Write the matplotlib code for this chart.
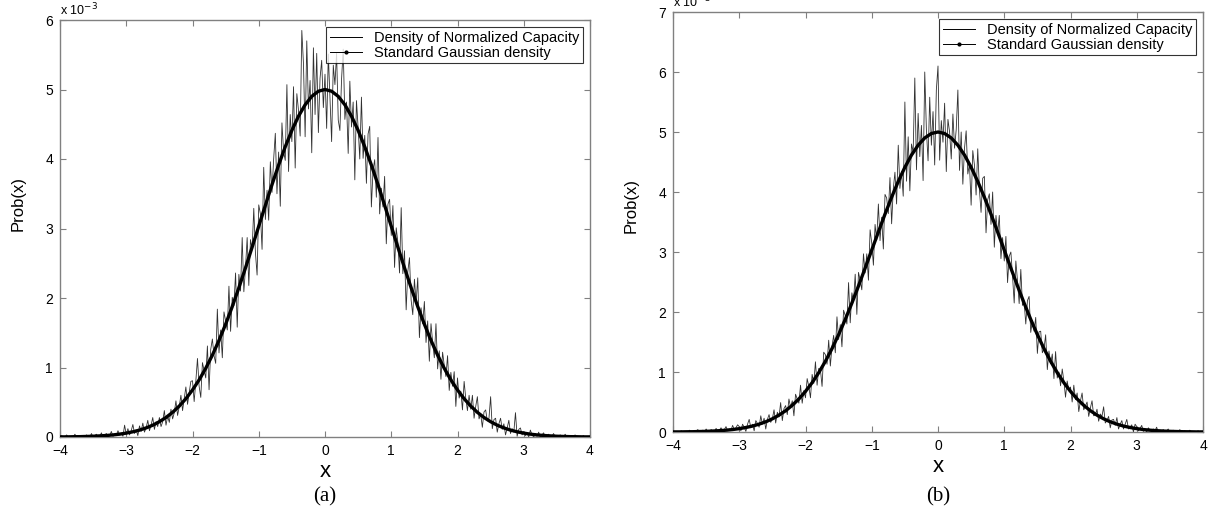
import numpy as np
import matplotlib
matplotlib.use("Agg")
import matplotlib.pyplot as plt
from matplotlib.lines import Line2D

# ---------------- data (values in units of 1e-3), x from -4 to 4 ----------------
x_min, x_max = -4.0, 4.0

density_a = [
    # -4.000 .. -3.025
    0.00, 0.02, 0.00, 0.00, 0.03, 0.00, 0.01, 0.00, 0.00, 0.04,
    0.00, 0.01, 0.00, 0.02, 0.00, 0.00, 0.03, 0.01, 0.00, 0.05,
    0.00, 0.02, 0.04, 0.00, 0.01, 0.06, 0.00, 0.03, 0.05, 0.00,
    0.02, 0.08, 0.01, 0.04, 0.02, 0.09, 0.03, 0.06, 0.01, 0.17,
    # -3.000 .. -2.025
    0.04, 0.12, 0.03, 0.09, 0.18, 0.05, 0.10, 0.02, 0.16, 0.08,
    0.20, 0.07, 0.13, 0.24, 0.09, 0.17, 0.28, 0.11, 0.22, 0.15,
    0.28, 0.15, 0.22, 0.38, 0.17, 0.30, 0.21, 0.40, 0.26, 0.35,
    0.52, 0.31, 0.44, 0.60, 0.38, 0.55, 0.72, 0.47, 0.63, 0.80,
    # -2.000 .. -1.025
    0.81, 0.51, 0.80, 1.13, 0.73, 0.57, 1.07, 0.96, 0.85, 1.31,
    0.68, 1.26, 1.41, 1.17, 1.06, 1.84, 1.21, 1.54, 1.14, 1.80,
    1.67, 1.54, 2.17, 1.52, 2.01, 1.89, 2.36, 1.58, 2.34, 2.10,
    2.87, 2.09, 2.43, 2.87, 2.18, 2.84, 2.70, 3.29, 2.65, 2.33,
    # -1.000 .. -0.025
    3.34, 3.21, 2.70, 3.88, 3.13, 3.55, 3.12, 3.96, 3.52, 4.00,
    4.37, 3.50, 4.10, 3.32, 4.52, 4.11, 3.98, 5.07, 3.82, 4.64,
    4.25, 5.04, 3.87, 4.94, 4.70, 4.33, 5.85, 5.37, 4.32, 5.70,
    4.72, 5.13, 4.09, 5.60, 4.64, 5.52, 4.38, 5.16, 5.42, 4.74,
    # 0.000 .. 0.975
    5.22, 4.44, 5.51, 4.90, 4.25, 5.35, 5.07, 5.52, 4.56, 4.41,
    5.15, 5.58, 4.57, 4.82, 4.08, 5.12, 4.46, 4.82, 3.70, 4.84,
    4.45, 4.00, 4.89, 4.01, 4.34, 3.65, 4.36, 4.47, 3.31, 3.84,
    3.99, 3.45, 4.31, 3.21, 3.58, 3.31, 3.75, 2.78, 3.35, 3.42,
    # 1.000 .. 1.975
    2.90, 3.33, 2.44, 3.01, 2.80, 2.36, 3.30, 2.35, 2.68, 1.83,
    2.38, 2.58, 1.97, 1.76, 2.27, 1.94, 2.29, 1.43, 1.86, 1.63,
    1.95, 1.36, 1.67, 1.09, 1.63, 1.36, 1.14, 1.63, 0.98, 1.24,
    0.83, 1.22, 1.03, 0.87, 1.17, 0.67, 0.93, 0.73, 0.94, 0.44,
    # 2.000 .. 2.975
    0.85, 0.56, 0.66, 0.39, 0.80, 0.55, 0.38, 0.60, 0.40, 0.60,
    0.27, 0.44, 0.58, 0.26, 0.33, 0.14, 0.36, 0.39, 0.23, 0.27,
    0.58, 0.12, 0.25, 0.27, 0.07, 0.19, 0.27, 0.11, 0.19, 0.03,
    0.13, 0.24, 0.05, 0.12, 0.07, 0.35, 0.01, 0.11, 0.13, 0.03,
    # 3.000 .. 3.975
    0.08, 0.02, 0.06, 0.00, 0.10, 0.03, 0.00, 0.05, 0.01, 0.07,
    0.00, 0.03, 0.06, 0.00, 0.02, 0.04, 0.00, 0.01, 0.05, 0.00,
    0.02, 0.00, 0.03, 0.01, 0.00, 0.04, 0.00, 0.00, 0.02, 0.00,
    0.01, 0.03, 0.00, 0.00, 0.01, 0.00, 0.02, 0.00, 0.00, 0.01,
    # 4.000
    0.00,
]

density_b = [
    # -4.000 .. -3.025
    0.00, 0.00, 0.01, 0.00, 0.00, 0.02, 0.00, 0.00, 0.01, 0.00,
    0.03, 0.00, 0.01, 0.00, 0.02, 0.04, 0.00, 0.01, 0.03, 0.00,
    0.05, 0.01, 0.00, 0.04, 0.02, 0.00, 0.06, 0.02, 0.03, 0.07,
    0.01, 0.04, 0.09, 0.02, 0.05, 0.03, 0.11, 0.04, 0.07, 0.12,
    # -3.000 .. -2.025
    0.09, 0.02, 0.13, 0.08, 0.01, 0.13, 0.21, 0.07, 0.13, 0.02,
    0.19, 0.14, 0.08, 0.27, 0.13, 0.23, 0.05, 0.21, 0.29, 0.16,
    0.22, 0.37, 0.15, 0.33, 0.25, 0.49, 0.19, 0.39, 0.44, 0.29,
    0.55, 0.41, 0.52, 0.27, 0.63, 0.55, 0.48, 0.78, 0.48, 0.69,
    # -2.000 .. -1.025
    0.57, 0.89, 0.76, 0.57, 0.96, 0.81, 1.17, 0.78, 1.06, 1.04,
    0.76, 1.33, 1.29, 1.13, 1.53, 1.10, 1.43, 1.61, 1.32, 1.92,
    1.54, 1.79, 1.42, 2.03, 1.94, 1.80, 2.49, 1.82, 2.32, 2.17,
    2.63, 1.96, 2.66, 2.53, 2.37, 2.97, 2.65, 2.97, 2.53, 3.37,
    # -1.000 .. -0.025
    3.15, 2.78, 3.46, 3.20, 3.80, 3.19, 3.58, 3.05, 3.96, 3.90,
    3.64, 4.24, 3.47, 4.05, 4.33, 3.80, 4.78, 4.06, 4.34, 3.93,
    5.50, 4.18, 4.92, 4.02, 4.80, 4.66, 5.90, 4.37, 5.31, 4.59,
    5.11, 4.19, 6.00, 5.03, 4.52, 5.58, 4.78, 5.34, 4.45, 5.70,
    # 0.000 .. 0.975
    6.10, 4.53, 5.19, 4.83, 5.48, 4.34, 5.21, 5.00, 4.55, 5.30,
    4.73, 5.04, 5.70, 4.36, 5.00, 4.13, 4.73, 5.02, 4.30, 4.47,
    3.78, 4.69, 4.45, 3.95, 4.72, 4.04, 3.66, 4.23, 4.26, 3.32,
    3.87, 3.97, 3.46, 4.00, 3.08, 3.61, 3.30, 3.61, 2.89, 3.24,
    # 1.000 .. 1.975
    2.85, 3.26, 2.49, 2.93, 3.00, 2.60, 2.15, 2.85, 2.52, 2.14,
    2.71, 2.11, 2.17, 1.80, 2.19, 2.26, 1.66, 1.86, 1.68, 1.91,
    1.31, 1.67, 1.68, 1.32, 1.39, 1.62, 1.04, 1.35, 1.14, 1.30,
    0.89, 1.34, 0.90, 1.00, 0.77, 1.05, 0.85, 0.58, 0.85, 0.69,
    # 2.000 .. 2.975
    0.75, 0.50, 0.78, 0.54, 0.65, 0.34, 0.52, 0.65, 0.37, 0.43,
    0.50, 0.26, 0.40, 0.52, 0.27, 0.28, 0.38, 0.18, 0.30, 0.26,
    0.42, 0.15, 0.19, 0.26, 0.07, 0.20, 0.21, 0.11, 0.24, 0.05,
    0.13, 0.19, 0.05, 0.13, 0.21, 0.05, 0.08, 0.12, 0.00, 0.13,
    # 3.000 .. 3.975
    0.09, 0.02, 0.06, 0.11, 0.01, 0.04, 0.00, 0.07, 0.03, 0.00,
    0.05, 0.02, 0.08, 0.00, 0.03, 0.01, 0.04, 0.00, 0.02, 0.05,
    0.00, 0.01, 0.03, 0.00, 0.02, 0.00, 0.04, 0.00, 0.01, 0.02,
    0.00, 0.00, 0.03, 0.00, 0.01, 0.00, 0.00, 0.02, 0.00, 0.00,
    # 4.000
    0.00,
]

gauss_curve = [
    0.002, 0.002, 0.004, 0.005, 0.008, 0.011, 0.016, 0.022, 0.030, 0.041,
    0.056, 0.075, 0.099, 0.131, 0.170, 0.220, 0.281, 0.355, 0.445, 0.551,
    0.677, 0.822, 0.989, 1.178, 1.390, 1.623, 1.876, 2.148, 2.434, 2.731,
    3.033, 3.334, 3.631, 3.913, 4.176, 4.412, 4.616, 4.780, 4.901, 4.975,
    5.000,
    4.975, 4.901, 4.780, 4.616, 4.412, 4.176, 3.913, 3.631, 3.334, 3.033,
    2.731, 2.434, 2.148, 1.876, 1.623, 1.390, 1.178, 0.989, 0.822, 0.677,
    0.551, 0.445, 0.355, 0.281, 0.220, 0.170, 0.131, 0.099, 0.075, 0.056,
    0.041, 0.030, 0.022, 0.016, 0.011, 0.008, 0.005, 0.004, 0.002, 0.002,
]

xticks = [-4, -3, -2, -1, 0, 1, 2, 3, 4]
yticks_a = [0, 1, 2, 3, 4, 5, 6]
yticks_b = [0, 1, 2, 3, 4, 5, 6, 7]
legend_labels = ["Density of Normalized Capacity", "Standard Gaussian density"]
panel_labels = ["(a)", "(b)"]

# ---------------- figure ----------------
plt.rcParams['font.family'] = ['Liberation Sans', 'DejaVu Sans']
fig = plt.figure(figsize=(12.12, 5.14), dpi=100)

W, H = 1212, 514
def rect(l, t, r, b):
    return [l / W, 1 - b / H, (r - l) / W, (b - t) / H]

ax_a = fig.add_axes(rect(60, 20, 590, 437))
ax_b = fig.add_axes(rect(673, 12, 1203, 432))

spine_col = '#808080'

def style(ax, dens, yticks, label, ylab_y):
    xd = np.linspace(x_min, x_max, len(dens))
    xg = np.linspace(x_min, x_max, len(gauss_curve))
    ax.plot(xd, dens, color='#303030', lw=0.6, zorder=2)
    ax.plot(xg, gauss_curve, color='black', lw=2.4, solid_joinstyle='round',
            solid_capstyle='round', zorder=3)
    ax.set_xlim(x_min, x_max)
    ax.set_ylim(yticks[0], yticks[-1])
    ax.set_xticks(xticks)
    ax.set_yticks(yticks)
    ax.set_xticklabels([("\u2212%d" % -t) if t < 0 else str(t) for t in xticks])
    ax.tick_params(direction='in', top=True, right=True, length=4, width=0.8,
                   color=spine_col, labelsize=10)
    ax.tick_params(axis='x', pad=5)
    ax.tick_params(axis='y', pad=5)
    for s in ax.spines.values():
        s.set_color(spine_col)
        s.set_linewidth(1.0)
    ax.set_ylabel('Prob(x)', fontsize=12)
    ax.yaxis.set_label_coords(-0.064, ylab_y)
    ax.set_xlabel('x', fontsize=16, labelpad=2)
    ax.text(0.0, 1.004, 'x 10$^{-3}$', transform=ax.transAxes, fontsize=9,
            ha='left', va='bottom')
    handles = [Line2D([], [], color='black', lw=0.7),
               Line2D([], [], color='black', lw=0.7, marker='.', markersize=4)]
    leg = ax.legend(handles, legend_labels, loc='upper right', fontsize=10.5,
                    frameon=True, fancybox=False, borderaxespad=0.5,
                    handlelength=2.2, handletextpad=0.8, borderpad=0.25,
                    labelspacing=0.05, numpoints=1)
    leg.get_frame().set_edgecolor('black')
    leg.get_frame().set_linewidth(0.8)
    cx = (ax.get_position().x0 + ax.get_position().x1) / 2
    fig.text(cx, 1 - 497 / H, label, fontsize=15, family='Liberation Serif',
             ha='center', va='center')

style(ax_a, density_a, yticks_a, panel_labels[0], 0.56)
style(ax_b, density_b, yticks_b, panel_labels[1], 0.54)

fig.savefig('out.png', dpi=100)
